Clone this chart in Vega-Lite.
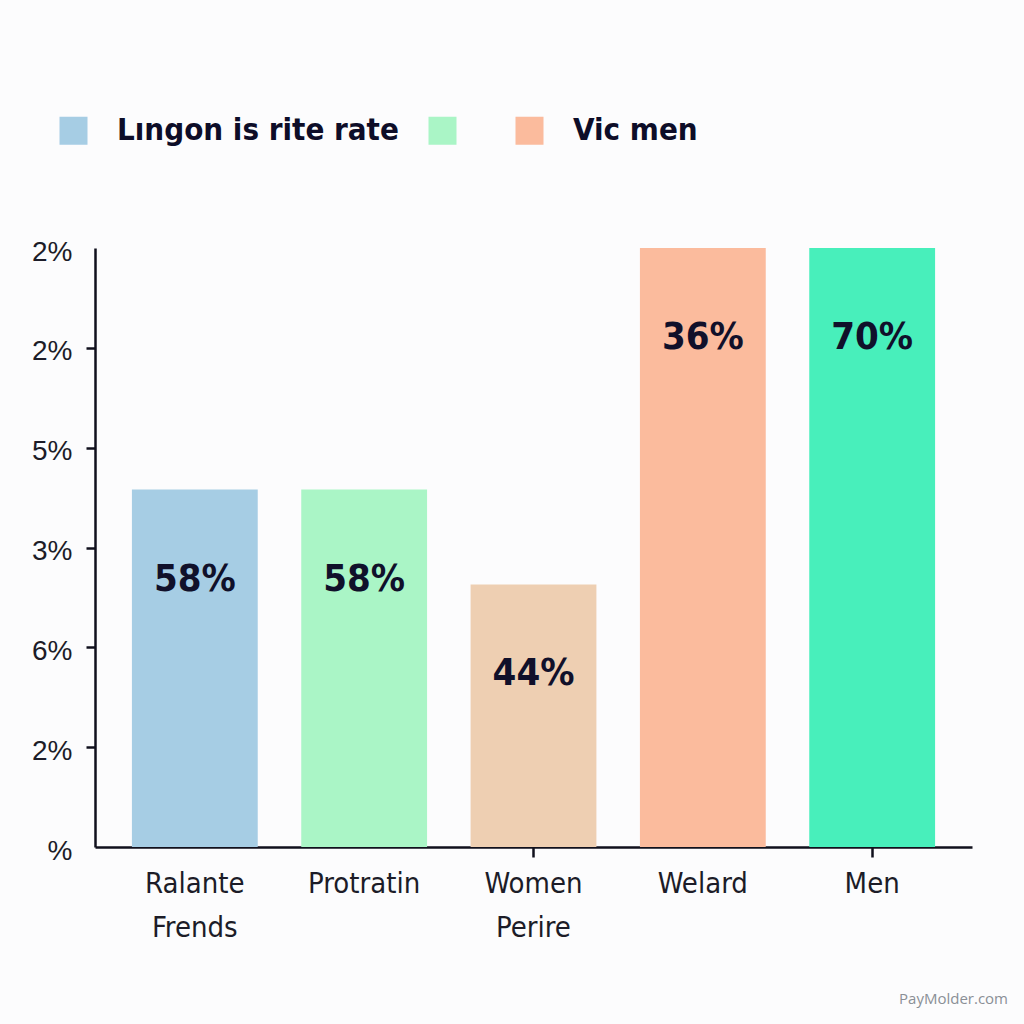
{
  "$schema": "https://vega.github.io/schema/vega-lite/v6.json",
  "width": 877,
  "height": 599,
  "autosize": "none",
  "padding": {"left": 95, "top": 248, "right": 52, "bottom": 177},
  "background": "#fcfcfd",
  "config": {
    "view": {"stroke": null},
    "font": "DejaVu Sans Condensed, Roboto, sans-serif"
  },
  "title": {
    "text": "PayMolder.com",
    "orient": "bottom",
    "anchor": "end",
    "fontSize": 15,
    "fontWeight": "normal",
    "font": "Open Sans",
    "color": "#8a8f96",
    "offset": 50,
    "dx": 36
  },
  "data": {
    "values": [
      {"cat": "Ralante|Frends", "value": 3.58, "label": "58%"},
      {"cat": "Protratin", "value": 3.58, "label": "58%"},
      {"cat": "Women|Perire", "value": 2.63, "label": "44%"},
      {"cat": "Welard", "value": 6.0, "label": "36%"},
      {"cat": "Men", "value": 6.0, "label": "70%"}
    ]
  },
  "encoding": {
    "x": {
      "field": "cat",
      "type": "nominal",
      "sort": null,
      "scale": {"paddingInner": 0.257, "paddingOuter": 0.218},
      "axis": {
        "title": null,
        "labelAngle": 0,
        "labelExpr": "split(datum.label, '|')",
        "labelFontSize": 29,
        "labelColor": "#1c1c28",
        "labelPadding": 12,
        "labelLineHeight": 44,
        "labelFont": "DejaVu Sans Condensed, Roboto, sans-serif",
        "domainColor": "#10101c",
        "domainWidth": 2.5,
        "tickSize": 10,
        "tickWidth": 2.5,
        "tickColor": {"condition": {"test": "datum.value == 'Women|Perire' || datum.value == 'Men'", "value": "#10101c"}, "value": "transparent"}
      }
    }
  },
  "layer": [
    {
      "mark": {"type": "bar"},
      "encoding": {
        "y": {
          "field": "value",
          "type": "quantitative",
          "scale": {"domain": [0, 6], "nice": false},
          "axis": {
            "title": null,
            "grid": false,
            "values": [0, 1, 2, 3, 4, 5, 6],
            "labelExpr": "['%', '2%', '6%', '3%', '5%', '2%', '2%'][datum.value]",
            "labelFontSize": 28,
            "labelColor": "#1c1c28",
            "labelPadding": 14,
            "labelOffset": 4,
            "labelFont": "Liberation Sans",
            "domainColor": "#10101c",
            "domainWidth": 2.5,
            "tickSize": 9,
            "tickWidth": 2.5,
            "tickColor": {"condition": {"test": "datum.value == 0 || datum.value == 6", "value": "transparent"}, "value": "#10101c"}
          }
        },
        "color": {
          "field": "cat",
          "type": "nominal",
          "scale": {
            "domain": ["Ralante|Frends", "Protratin", "Women|Perire", "Welard", "Men"],
            "range": ["#a6cde4", "#aaf5c6", "#eecfb2", "#fbbb9d", "#48efbb"]
          },
          "legend": {
            "values": ["Ralante|Frends", "Protratin", "Welard"],
            "labelExpr": "datum.value == 'Ralante|Frends' ? 'Lıngon is rite rate' : datum.value == 'Welard' ? 'Vic men' : ''",
            "title": null,
            "orient": "none",
            "legendX": -37,
            "legendY": -133,
            "direction": "horizontal",
            "symbolType": "square",
            "symbolSize": 784,
            "symbolStrokeWidth": 0,
            "symbolOpacity": 1,
            "labelFontSize": 31,
            "labelFont": "DejaVu Sans Condensed, Roboto, sans-serif",
            "labelFontWeight": "bold",
            "labelColor": "#0d0d28",
            "labelOffset": 28,
            "columnPadding": 28,
            "labelLimit": 600
          }
        }
      }
    },
    {
      "mark": {
        "type": "text",
        "baseline": "middle",
        "dy": 90,
        "fontSize": 38,
        "fontWeight": "bold",
        "font": "DejaVu Sans Condensed, Roboto, sans-serif",
        "color": "#10102a"
      },
      "encoding": {
        "y": {"field": "value", "type": "quantitative"},
        "text": {"field": "label"}
      }
    }
  ]
}
